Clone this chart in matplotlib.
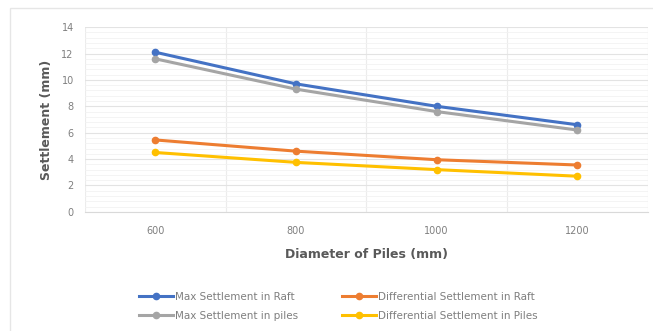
import numpy as np
import matplotlib.pyplot as plt
from matplotlib.patches import Rectangle

# Pile diameters (mm) and settlements (mm)
diameters = ['600', '800', '1000', '1200']
max_raft = [12.1, 9.7, 8.0, 6.6]
max_piles = [11.6, 9.3, 7.6, 6.2]
diff_raft = [5.45, 4.6, 3.95, 3.55]
diff_piles = [4.5, 3.75, 3.2, 2.7]

series = [
    ('Max Settlement in Raft', max_raft, '#4472C4'),
    ('Max Settlement in piles', max_piles, '#A5A5A5'),
    ('Differential Settlement in Raft', diff_raft, '#ED7D31'),
    ('Differential Settlement in Piles', diff_piles, '#FFC000'),
]

fig = plt.figure(figsize=(6.53, 3.31), dpi=100)
fig.patches.append(Rectangle((0.015, -0.01), 1.0, 0.985, transform=fig.transFigure,
                             fill=False, edgecolor='#e6e6e6', linewidth=1.0))
ax = fig.add_axes([0.13, 0.36, 0.862, 0.558])

x = np.arange(len(diameters))
lines = []
for label, vals, color in series:
    ln, = ax.plot(x, vals, color=color, linewidth=2.2, marker='o', markersize=4.5, label=label)
    lines.append(ln)

ax.set_xlim(-0.5, len(diameters) - 0.5)
ax.set_ylim(0, 14)
ax.set_yticks(np.arange(0, 15, 2))
ax.set_yticks(np.arange(0, 14, 0.4), minor=True)
ax.set_xticks(x)
ax.set_xticklabels(diameters)
ax.set_xticks(np.arange(-0.5, len(diameters), 1.0), minor=True)
ax.grid(which='major', axis='y', color='#e3e3e3', linewidth=0.8)
ax.grid(which='minor', axis='y', color='#f2f2f2', linewidth=0.6)
ax.grid(which='minor', axis='x', color='#ececec', linewidth=0.8)
ax.tick_params(which='both', length=0, colors='#7f7f7f', labelsize=7)
ax.tick_params(axis='x', pad=10)
ax.tick_params(axis='y', pad=8)
for s in ['top', 'right', 'left']:
    ax.spines[s].set_visible(False)
ax.spines['bottom'].set_color('#d9d9d9')

ax.set_xlabel('Diameter of Piles (mm)', fontsize=9, fontweight='bold', color='#595959', labelpad=9)
ax.set_ylabel('Settlement (mm)', fontsize=9, fontweight='bold', color='#595959', labelpad=6)

fig.legend(lines, [l.get_label() for l in lines], loc='center', bbox_to_anchor=(0.518, 0.075),
           ncol=2, frameon=False, fontsize=7.5, labelcolor='#7f7f7f',
           handlelength=3.3, columnspacing=4.2, handletextpad=0.2, labelspacing=0.85)

plt.savefig('out.png', dpi=100)
plt.close()
